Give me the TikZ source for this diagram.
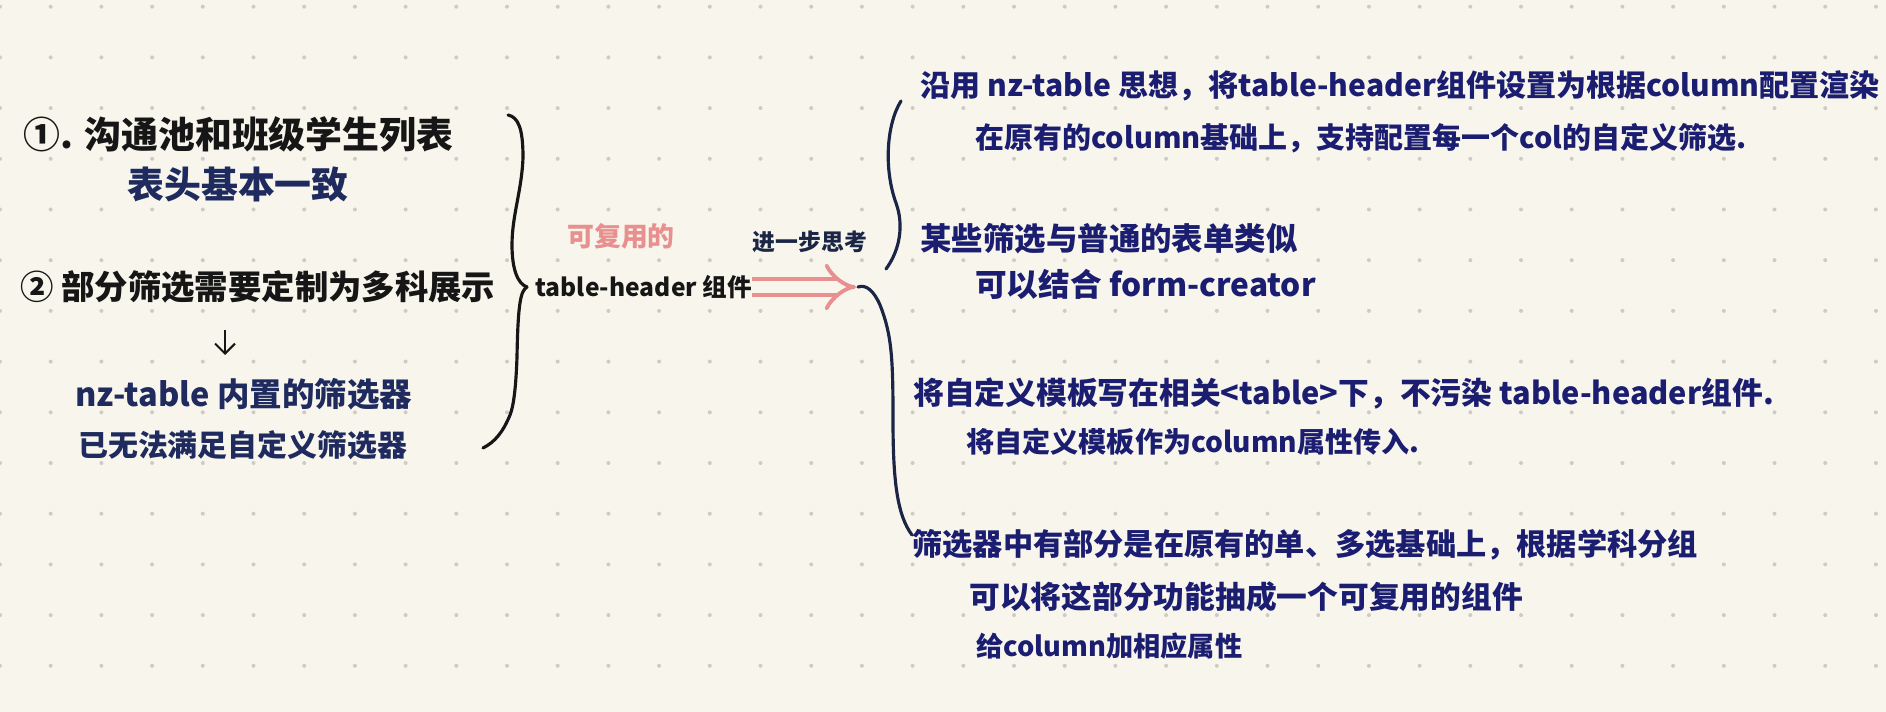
\documentclass[tikz,border=0pt]{standalone}
\usepackage{fontspec}
\setmainfont{Noto Sans CJK SC}
\usepackage{tikz}
\usetikzlibrary{arrows.meta, positioning}
\definecolor{paper}{HTML}{F8F6EC}
\definecolor{dotgray}{HTML}{CDCBC3}
\definecolor{ink}{HTML}{161616}
\definecolor{navy}{HTML}{1F2B5E}
\definecolor{royal}{HTML}{1A1D70}
\definecolor{deepnavy}{HTML}{1B2545}
\definecolor{rose}{HTML}{E8908F}
\tikzset{
  pts/.style        = {font=\fontsize{#1}{#1}\selectfont\bfseries},
  note/.style       = {anchor=west, inner sep=0pt, text=ink, pts=21},
  subnote/.style    = {anchor=west, inner sep=0pt, text=navy, pts=17},
  idea/.style       = {anchor=west, inner sep=0pt, text=royal, pts=16.5},
  tag/.style        = {anchor=center, inner sep=0pt},
  brace/.style      = {line width=1.8pt, line cap=round, line join=round},
  implarrow/.style  = {rose, line width=2.2pt, double=paper, double distance=7pt,
                       -{Implies}},
  downarrow/.style  = {-{Straight Barb[length=2mm]}, ink, line width=1.2pt},
}

\begin{document}
\begin{tikzpicture}[x=0.02cm, y=-0.02cm]

  \useasboundingbox (0,0) rectangle (1886,712);

  % paper and dot grid
  \fill[paper] (0,0) rectangle (1886,712);
  \foreach \i in {0,...,37}
    \foreach \j in {0,...,13}
      \fill[dotgray] (50.7*\i, 6.7+50.7*\j) circle[radius=0.04cm];

  % left column
  \node[note] (pt1) at (23,134) {①. 沟通池和班级学生列表};
  \node[note, text=navy] (pt1sub) at (127,184) {表头基本一致};
  \node[note, pts=19] (pt2) at (20,287) {② 部分筛选需要定制为多科展示};
  \node[subnote, pts=18.5] (pt2a) at (75,394) {nz-table 内置的筛选器};
  \node[subnote] (pt2b) at (78,445) {已无法满足自定义筛选器};

  \coordinate (dtop) at (225,330);
  \coordinate (dbot) at (225,355);
  \draw[downarrow] (dtop) -- (dbot);

  % left brace
  \draw[brace, ink] (508,115) .. controls (518,117) and (523,128) .. (523,157)
    .. controls (522,190) and (512,215) .. (512,245)
    .. controls (512,270) and (518,284) .. (527,287);
  \draw[brace, ink] (527,287) .. controls (521,291) and (518,300) .. (517,357)
    .. controls (516,385) and (514,405) .. (510,415)
    .. controls (503,432) and (495,442) .. (483,448);

  % middle
  \node[tag, text=rose, pts=15.3] (reuse) at (621,236) {可复用的};
  \node[note, pts=14] (comp) at (535,287) {table-header 组件};
  \node[tag, text=deepnavy, pts=13] (think) at (810,242) {进一步思考};

  \coordinate (arrS) at (752,287);
  \coordinate (arrE) at (856,287);
  \draw[implarrow] (arrS) -- (arrE);

  % right braces
  \draw[brace, deepnavy] (901,101) .. controls (886,125) and (884,170) .. (896,203)
    .. controls (904,225) and (900,250) .. (886,269);
  \draw[brace, deepnavy] (858,287) .. controls (866,284) and (874,291) .. (880,305)
    .. controls (892,335) and (893,360) .. (893,420)
    .. controls (893,480) and (897,515) .. (912,535);

  % further thoughts
  \node[idea, pts=17.1] (r1) at (920,86)  {沿用 nz-table 思想，将table-header组件设置为根据column配置渲染};
  \node[idea] (r2) at (975,138) {在原有的column基础上，支持配置每一个col的自定义筛选.};
  \node[idea, pts=17.9] (r3) at (920,239) {某些筛选与普通的表单类似};
  \node[idea, pts=18] (r4) at (975,284) {可以结合 form-creator};
  \node[idea, pts=17.5] (r5) at (913,394) {将自定义模板写在相关<table>下，不污染 table-header组件.};
  \node[idea, pts=16] (r6) at (966,442) {将自定义模板作为column属性传入.};
  \node[idea, pts=17.2] (r7) at (912,545) {筛选器中有部分是在原有的单、多选基础上，根据学科分组};
  \node[idea, pts=17.5] (r8) at (969,597) {可以将这部分功能抽成一个可复用的组件};
  \node[idea, pts=15.5] (r9) at (976,646) {给column加相应属性};

\end{tikzpicture}
\end{document}
